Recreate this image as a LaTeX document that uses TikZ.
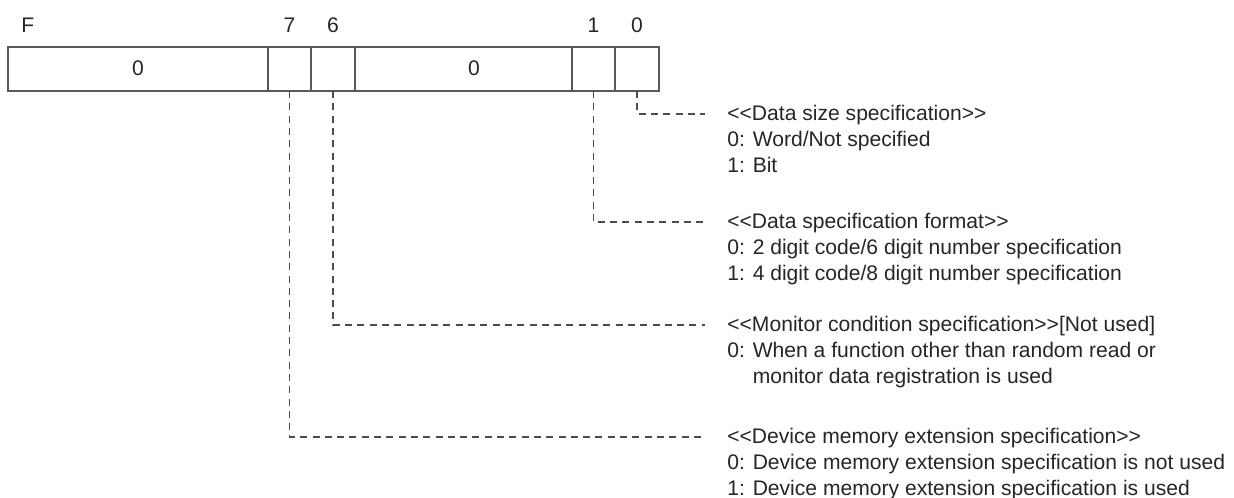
\documentclass[tikz,border=0pt]{standalone}
\usepackage{fontspec}
\setmainfont{Liberation Sans}[Ligatures=TeXOff]
\usetikzlibrary{positioning}

\begin{document}
\begin{tikzpicture}[
    font=\fontsize{12pt}{14.5pt}\selectfont,
    every node/.style={text=black!85},
    cell/.style={rectangle, draw=black!65, line width=0.6pt, outer sep=0pt, inner sep=0pt, minimum height=0.88cm},
    txt/.style={inner xsep=0pt, inner ysep=0pt, text height=11pt, text depth=3.5pt},
    note/.style={txt, inner xsep=0.44cm, anchor=west},
    leader/.style={draw=black!70, line width=0.6pt, dash pattern=on 4pt off 3pt}]

    \useasboundingbox (0,0) rectangle (24.68,-9.96);

    % The register word, bit F on the left and bit 0 on the right
    \node[cell, minimum width=5.20cm] (cF) at (2.76,-1.38) {};
    \node[cell, minimum width=0.86cm, right=0pt of cF] (c7) {};
    \node[cell, minimum width=0.88cm, right=0pt of c7] (c6) {};
    \node[cell, minimum width=4.34cm, right=0pt of c6] (cM) {};
    \node[cell, minimum width=0.86cm, right=0pt of cM] (c1) {};
    \node[cell, minimum width=0.88cm, right=0pt of c1] (c0) {};

    % Fixed values inside the word
    \node[txt] (zF) at (cF) {0};
    \node[txt] (zM) at ([xshift=2.1mm]cM.center) {0};

    % Bit numbers above the word
    \node[txt, above right=1.6mm and 0.26cm of cF.north west] (nF) {F};
    \node[txt, above=1.6mm of c7] (n7) {7};
    \node[txt, above=1.6mm of c6] (n6) {6};
    \node[txt, above=1.6mm of c1] (n1) {1};
    \node[txt, above=1.6mm of c0] (n0) {0};

    % Descriptions of the bits
    \node[note] (h0) at (14.10,-2.28) {<<Data size specification>>};
    \node[note, below right=0pt and 0pt of h0.south west] (d0a) {0: Word/Not specified};
    \node[note, below right=0pt and 0pt of d0a.south west] (d0b) {1: Bit};

    \node[note] (h1) at (14.10,-4.44) {<<Data specification format>>};
    \node[note, below right=0pt and 0pt of h1.south west] (d1a) {0: 2 digit code/6 digit number specification};
    \node[note, below right=0pt and 0pt of d1a.south west] (d1b) {1: 4 digit code/8 digit number specification};

    \node[note] (h6) at (14.10,-6.50) {<<Monitor condition specification>>[Not used]};
    \node[note, below right=0pt and 0pt of h6.south west] (d6a) {0: When a function other than random read or};
    \node[note, below right=0pt and 0pt of d6a.south west] (d6b) {\phantom{0: }monitor data registration is used};

    \node[note] (h7) at (14.10,-8.74) {<<Device memory extension specification>>};
    \node[note, below right=0pt and 0pt of h7.south west] (d7a) {0: Device memory extension specification is not used};
    \node[note, below right=0pt and 0pt of d7a.south west] (d7b) {1: Device memory extension specification is used};

    % Dashed leaders from the bits to their descriptions
    \draw[leader] (c0.south) |- (h0.west);
    \draw[leader] (c1.south) |- (h1.west);
    \draw[leader] (c6.south) |- (h6.west);
    \draw[leader] (c7.south) |- (h7.west);
\end{tikzpicture}
\end{document}
